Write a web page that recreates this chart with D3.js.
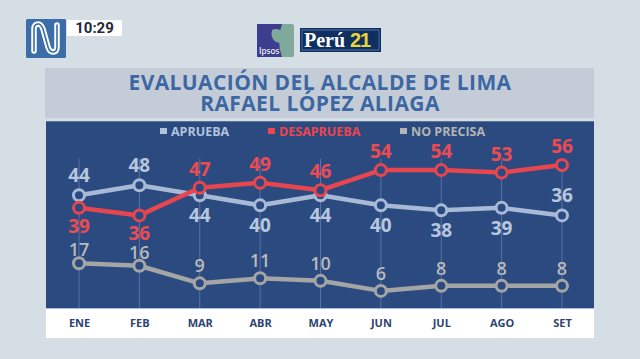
<!DOCTYPE html>
<html><head><meta charset="utf-8">
<script src="https://cdn.jsdelivr.net/npm/d3@7"></script>
<style>html,body{margin:0;padding:0;background:#d5dee5;}svg{display:block;}</style>
</head><body>
<script>
const months = ["ENE","FEB","MAR","ABR","MAY","JUN","JUL","AGO","SET"];
const aprueba = [44,48,44,40,44,40,38,39,36];
const desaprueba = [39,36,47,49,46,54,54,53,56];
const noPrecisa = [17,16,9,11,10,6,8,8,8];
const seriesNames = ["APRUEBA","DESAPRUEBA","NO PRECISA"];
// label placement: true = above, false = below
const apruebaAbove = [true,true,false,false,false,false,false,false,true];
const desapruebaAbove = [false,false,true,true,true,true,true,true,true];

const W=640,H=359;
const svg=d3.select("body").append("svg").attr("width",W).attr("height",H);
svg.append("rect").attr("width",W).attr("height",H).attr("fill","#d5dee5");

// header logos
const lg=svg.append("g");
lg.append("rect").attr("x",26).attr("y",19).attr("width",40).attr("height",39).attr("fill","#3b6ea6").attr("rx",1.5);
const nPath="M34,51 L34,29 Q34,24 38.5,24 Q41,24 43,29 L48,47 Q49.5,52 53,52 Q57,52 57,47 L57,25";
lg.append("path").attr("d",nPath).attr("fill","none").attr("stroke","#fff").attr("stroke-width",5.5).attr("stroke-linecap","round").attr("stroke-linejoin","round");
lg.append("path").attr("d",nPath).attr("fill","none").attr("stroke","#3b6ea6").attr("stroke-width",1.6).attr("stroke-linecap","round").attr("stroke-linejoin","round");
lg.append("rect").attr("x",67).attr("y",20).attr("width",55).attr("height",16).attr("fill","#fff");
lg.append("text").attr("x",94.5).attr("y",33).attr("text-anchor","middle").attr("font-family","Roboto, sans-serif")
  .attr("font-weight","bold").attr("font-size",15).attr("fill","#1f2a3c").text("10:29");
// Ipsos
lg.append("rect").attr("x",257).attr("y",24).attr("width",37).attr("height",33).attr("fill","#7fa99a").attr("rx",2);
lg.append("path").attr("d","M257,24 L282,24 Q276,40 282,57 L257,57 Z").attr("fill","#3d3d8f");
lg.append("path").attr("d","M272,30 Q280,27 283,34 L284,40 Q280,44 276,42 Q270,38 272,30 Z").attr("fill","#7fa99a");
lg.append("text").attr("x",259).attr("y",54).attr("font-family","Lato, sans-serif").attr("font-size",9).attr("fill","#fff").text("Ipsos");
// Peru21
lg.append("rect").attr("x",300).attr("y",28).attr("width",81).attr("height",24).attr("fill","#0f2f61");
lg.append("rect").attr("x",302).attr("y",30).attr("width",77).attr("height",20).attr("fill","none").attr("stroke","#5b7fb0").attr("stroke-width",0.8);
lg.append("text").attr("x",304).attr("y",47).attr("font-family","Liberation Serif, serif").attr("font-weight","bold")
  .attr("font-size",20).attr("fill","#fff").text("Perú");
lg.append("text").attr("x",350).attr("y",47).attr("font-family","Liberation Sans, sans-serif").attr("font-weight","bold")
  .attr("font-size",20).attr("fill","#e8d53a").attr("letter-spacing",-1).text("21");

// title band
svg.append("rect").attr("x",45).attr("y",68).attr("width",549).attr("height",50).attr("fill","#c4cdd7");
const title=svg.append("text").attr("text-anchor","middle").attr("font-family","'Open Sans', sans-serif")
  .attr("font-weight","bold").attr("font-size",21).attr("letter-spacing",0.4).attr("fill","#3d67a3");
title.append("tspan").attr("x",320).attr("y",90).text("EVALUACIÓN DEL ALCALDE DE LIMA");
title.append("tspan").attr("x",320).attr("y",110.5).text("RAFAEL LÓPEZ ALIAGA");

// panel
const panel={x:46,y:121,w:548,h:187};
svg.append("rect").attr("x",panel.x).attr("y",panel.y).attr("width",panel.w).attr("height",panel.h).attr("fill","#2b4a80");
svg.append("line").attr("x1",panel.x).attr("x2",panel.x+panel.w).attr("y1",panel.y+0.5).attr("y2",panel.y+0.5)
  .attr("stroke","#5d739a").attr("stroke-width",1);
svg.append("rect").attr("x",panel.x).attr("y",panel.y+panel.h).attr("width",panel.w).attr("height",30).attr("fill","#fff");
svg.append("line").attr("x1",panel.x).attr("x2",panel.x+panel.w).attr("y1",panel.y+panel.h+0.5).attr("y2",panel.y+panel.h+0.5)
  .attr("stroke","#a9bde0").attr("stroke-width",1);

const x=d3.scalePoint().domain(months).range([79,562]);
const y=d3.scaleLinear().domain([0,60]).range([306,155]);

// grid lines
svg.append("g").selectAll("line").data(months).join("line")
  .attr("x1",d=>x(d)).attr("x2",d=>x(d)).attr("y1",y(58.5)).attr("y2",panel.y+panel.h)
  .attr("stroke","#5673a6").attr("stroke-width",1);

// x axis
const xAxis=svg.append("g").attr("transform",`translate(0,${panel.y+panel.h+15})`)
  .call(d3.axisBottom(x).tickSize(0).tickPadding(0));
xAxis.select(".domain").remove();
xAxis.selectAll("text").attr("font-family","'Open Sans', sans-serif").attr("font-weight","bold")
  .attr("font-size",11).attr("fill","#2c4470").attr("dy","0.32em").attr("y",0);

// legend
const legendItems=[
  {name:seriesNames[0],color:"#b3c3dc",x:160},
  {name:seriesNames[1],color:"#ee454e",x:268},
  {name:seriesNames[2],color:"#b4b4b4",x:400}];
const leg=svg.append("g");
legendItems.forEach(d=>{
  leg.append("rect").attr("x",d.x).attr("y",128).attr("width",7).attr("height",6).attr("fill",d.color);
  leg.append("text").attr("x",d.x+11).attr("y",136).attr("font-family","'Open Sans', sans-serif").attr("font-weight","bold")
    .attr("font-size",12.5).attr("fill",d.color).text(d.name);
});

const line=d3.line().x((d,i)=>x(months[i])).y(d=>y(d));
function drawSeries(vals,color,labelColor,labelDy,weight,fs){
  const g=svg.append("g");
  g.append("path").datum(vals).attr("d",line).attr("fill","none").attr("stroke",color).attr("stroke-width",4.5)
    .attr("stroke-linejoin","round");
  g.selectAll("circle").data(vals).join("circle").attr("cx",(d,i)=>x(months[i])).attr("cy",d=>y(d)).attr("r",5.5)
    .attr("fill","#2b4a80").attr("stroke",color).attr("stroke-width",3);
  g.selectAll("text").data(vals).join("text").attr("x",(d,i)=>x(months[i]))
    .attr("y",(d,i)=>y(d)+labelDy(i))
    .attr("text-anchor","middle").attr("font-family","'Open Sans', sans-serif").attr("font-weight",weight)
    .attr("font-size",fs).attr("fill",labelColor).text(d=>d);
}
// grey labels sit closer to their point where a red label hangs below the red line
drawSeries(noPrecisa,"#a5a5a5","#b9b9b9",i=>desapruebaAbove[i]?-11:-7,"600",18);
drawSeries(aprueba,"#a8bad6","#b8c7de",i=>apruebaAbove[i]?-13:27,"bold",19);
drawSeries(desaprueba,"#e8464f","#ee4a52",i=>desapruebaAbove[i]?-12:25,"bold",19);
</script>
</body></html>
